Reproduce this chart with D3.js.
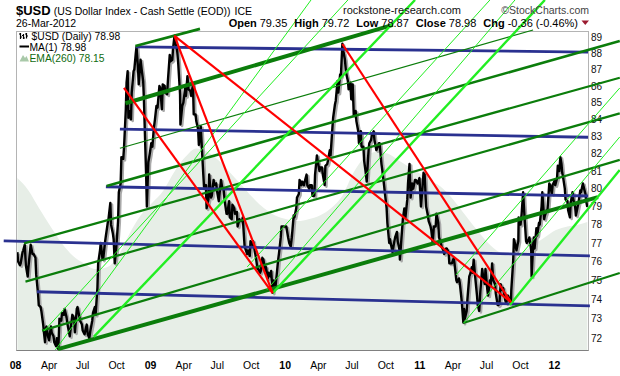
<!DOCTYPE html>
<html>
<head>
<meta charset="utf-8">
<script src="https://cdn.jsdelivr.net/npm/d3@7"></script>
<style>
body { margin: 0; background: #fff; }
svg text { font-family: "Liberation Sans", Arial, sans-serif; }
</style>
</head>
<body>
<svg width="620" height="376"></svg>
<script>
// $USD daily closes (about weekly plus the turning points)
var usd2008 = [
  ["2008-01-02",76.5],["2008-01-04",76.0],["2008-01-09",75.8],["2008-01-11",75.9],["2008-01-16",76.5],
  ["2008-01-18",76.6],["2008-01-22",76.9],["2008-01-25",75.8],["2008-01-30",75.2],["2008-02-01",75.7],
  ["2008-02-07",76.9],["2008-02-12",76.4],["2008-02-15",76.4],["2008-02-20",76.2],["2008-02-22",75.3],
  ["2008-02-27",74.3],["2008-02-29",73.7],["2008-03-05",73.6],["2008-03-07",73.4],["2008-03-12",72.7],
  ["2008-03-14",72.3],["2008-03-17",71.8],["2008-03-19",72.5],["2008-03-21",72.6],["2008-03-25",72.1],
  ["2008-03-28",71.9],["2008-04-02",72.6],["2008-04-04",72.3],["2008-04-09",72.1],["2008-04-11",71.8],
  ["2008-04-16",71.6],["2008-04-18",72.0],["2008-04-22",71.45],["2008-04-25",73.0],["2008-04-30",72.9],
  ["2008-05-02",73.3],["2008-05-07",73.2],["2008-05-09",73.5],["2008-05-14",73.1],["2008-05-16",72.8],
  ["2008-05-21",72.3],["2008-05-23",72.1],["2008-05-28",72.9],["2008-05-30",73.2],["2008-06-04",73.0],
  ["2008-06-06",72.3],["2008-06-11",73.5],["2008-06-13",73.6],["2008-06-18",73.1],["2008-06-20",72.9],
  ["2008-06-25",72.7],["2008-06-27",72.4],["2008-07-02",72.2],["2008-07-08",72.7],["2008-07-11",72.2],
  ["2008-07-15",72.0],["2008-07-18",72.4],["2008-07-23",72.9],["2008-07-25",73.3],["2008-07-30",73.6],
  ["2008-08-01",73.2],["2008-08-06",74.6],["2008-08-08",75.9],["2008-08-13",76.6],["2008-08-15",77.0],
  ["2008-08-20",76.1],["2008-08-22",76.2],["2008-08-27",77.1],["2008-08-29",77.4],["2008-09-03",78.1],
  ["2008-09-05",78.3],["2008-09-10",79.2],["2008-09-12",78.0],["2008-09-17",77.5],["2008-09-19",77.2],
  ["2008-09-22",75.9],["2008-09-26",76.7],["2008-10-01",78.2],["2008-10-03",79.8],["2008-10-08",80.3],
  ["2008-10-10",81.8],["2008-10-15",81.7],["2008-10-17",82.3],["2008-10-22",84.6],["2008-10-24",86.2],
  ["2008-10-27",86.9],["2008-10-29",84.1],["2008-10-31",84.5],["2008-11-05",84.0],["2008-11-07",85.6],
  ["2008-11-12",86.9],["2008-11-14",87.0],["2008-11-18",88.0],["2008-11-20",88.4],["2008-11-24",87.1],
  ["2008-11-26",86.1],["2008-12-01",87.6],["2008-12-04",87.0],["2008-12-08",86.3],["2008-12-10",85.2],
  ["2008-12-12",83.7],["2008-12-16",80.8],["2008-12-18",79.0],["2008-12-22",81.5],["2008-12-26",82.0],
  ["2008-12-30",82.6]
];
var usd2009 = [
  ["2009-01-02",82.4],["2009-01-06",83.5],["2009-01-09",84.0],["2009-01-13",84.8],["2009-01-16",84.7],
  ["2009-01-21",86.0],["2009-01-23",85.9],["2009-01-28",84.6],["2009-01-30",86.1],["2009-02-04",86.0],
  ["2009-02-06",85.6],["2009-02-11",85.5],["2009-02-13",86.3],["2009-02-18",87.9],["2009-02-20",87.5],
  ["2009-02-25",87.6],["2009-02-27",88.3],["2009-03-03",89.1],["2009-03-06",88.6],["2009-03-10",88.2],
  ["2009-03-13",87.4],["2009-03-18",85.5],["2009-03-19",83.7],["2009-03-24",84.8],["2009-03-27",85.0],
  ["2009-04-01",85.9],["2009-04-03",85.4],["2009-04-07",86.6],["2009-04-10",85.8],["2009-04-15",85.7],
  ["2009-04-17",85.4],["2009-04-22",86.1],["2009-04-24",84.3],["2009-04-29",84.3],["2009-05-01",83.9],
  ["2009-05-06",83.4],["2009-05-08",82.5],["2009-05-13",83.6],["2009-05-15",82.8],["2009-05-20",80.8],
  ["2009-05-22",80.1],["2009-05-27",80.2],["2009-05-29",78.9],["2009-06-03",79.4],["2009-06-05",80.8],
  ["2009-06-10",79.5],["2009-06-12",79.6],["2009-06-17",80.5],["2009-06-19",80.2],["2009-06-24",80.3],
  ["2009-06-26",79.9],["2009-07-01",79.3],["2009-07-07",80.5],["2009-07-10",80.1],["2009-07-14",80.0],
  ["2009-07-17",79.3],["2009-07-22",78.6],["2009-07-24",78.6],["2009-07-29",79.3],["2009-07-31",78.4],
  ["2009-08-05",78.3],["2009-08-07",79.1],["2009-08-12",78.9],["2009-08-14",78.6],["2009-08-19",78.7],
  ["2009-08-21",77.9],["2009-08-26",78.3],["2009-08-28",78.2],["2009-09-02",78.2],["2009-09-04",78.4],
  ["2009-09-09",76.8],["2009-09-11",76.7],["2009-09-16",76.4],["2009-09-18",76.6],["2009-09-23",76.3],
  ["2009-09-25",77.1],["2009-09-30",76.9],["2009-10-02",77.1],["2009-10-07",76.5],["2009-10-09",76.3],
  ["2009-10-14",75.6],["2009-10-16",75.6],["2009-10-21",75.4],["2009-10-23",75.5],["2009-10-27",76.2],
  ["2009-10-30",76.1],["2009-11-04",75.5],["2009-11-06",75.7],["2009-11-11",75.1],["2009-11-13",75.4],
  ["2009-11-18",75.2],["2009-11-20",75.5],["2009-11-24",74.35],["2009-11-27",75.0],["2009-12-02",74.7],
  ["2009-12-04",75.1],["2009-12-09",76.1],["2009-12-11",76.4],["2009-12-16",77.3],["2009-12-18",77.9],
  ["2009-12-23",77.9],["2009-12-31",77.9]
];
var usd2010 = [
  ["2010-01-05",77.3],["2010-01-08",77.0],["2010-01-12",76.8],["2010-01-15",77.3],["2010-01-20",78.5],
  ["2010-01-22",78.4],["2010-01-27",78.9],["2010-01-29",79.5],["2010-02-03",79.7],["2010-02-05",80.5],
  ["2010-02-10",80.2],["2010-02-12",80.4],["2010-02-17",80.2],["2010-02-19",80.4],["2010-02-24",80.8],
  ["2010-02-26",80.2],["2010-03-03",80.0],["2010-03-05",80.2],["2010-03-10",80.2],["2010-03-12",79.6],
  ["2010-03-17",79.6],["2010-03-19",80.8],["2010-03-24",81.9],["2010-03-26",81.6],["2010-03-31",81.0],
  ["2010-04-02",81.2],["2010-04-07",81.2],["2010-04-09",80.8],["2010-04-14",80.2],["2010-04-16",81.3],
  ["2010-04-21",81.4],["2010-04-23",81.6],["2010-04-28",82.2],["2010-04-30",81.9],["2010-05-05",83.5],
  ["2010-05-07",84.1],["2010-05-12",84.9],["2010-05-14",85.1],["2010-05-19",86.3],["2010-05-21",85.6],
  ["2010-05-26",86.7],["2010-05-28",86.6],["2010-06-01",88.6],["2010-06-04",88.1],["2010-06-08",87.6],
  ["2010-06-11",86.8],["2010-06-16",86.3],["2010-06-18",85.8],["2010-06-23",86.2],["2010-06-25",85.2],
  ["2010-06-29",86.1],["2010-07-02",84.2],["2010-07-07",84.5],["2010-07-09",83.9],["2010-07-14",83.3],
  ["2010-07-16",82.6],["2010-07-21",83.3],["2010-07-23",82.4],["2010-07-28",82.4],["2010-07-30",81.6],
  ["2010-08-04",80.8],["2010-08-06",80.4],["2010-08-11",82.2],["2010-08-13",82.6],["2010-08-18",82.8],
  ["2010-08-20",83.1],["2010-08-25",83.3],["2010-08-27",82.8],["2010-09-01",82.2],["2010-09-03",82.3],
  ["2010-09-08",82.6],["2010-09-10",82.6],["2010-09-15",81.4],["2010-09-17",81.1],["2010-09-22",80.2],
  ["2010-09-24",79.8],["2010-09-29",78.9],["2010-10-01",78.1],["2010-10-06",77.0],["2010-10-08",77.2],
  ["2010-10-13",76.7],["2010-10-15",76.5],["2010-10-20",77.1],["2010-10-22",77.3],["2010-10-27",77.6],
  ["2010-10-29",77.1],["2010-11-03",76.6],["2010-11-04",76.1],["2010-11-08",77.2],["2010-11-12",78.3],
  ["2010-11-16",78.9],["2010-11-19",78.4],["2010-11-24",79.4],["2010-11-26",80.3],["2010-11-30",81.4],
  ["2010-12-03",79.5],["2010-12-07",80.3],["2010-12-10",80.0],["2010-12-15",80.5],["2010-12-17",80.5],
  ["2010-12-22",80.3],["2010-12-27",80.6],["2010-12-31",79.0]
];
var usd2011 = [
  ["2011-01-04",80.0],["2011-01-07",80.9],["2011-01-10",80.8],["2011-01-14",79.0],["2011-01-18",78.6],
  ["2011-01-21",78.2],["2011-01-26",77.9],["2011-01-28",77.7],["2011-02-01",77.0],["2011-02-04",77.9],
  ["2011-02-09",77.9],["2011-02-11",78.6],["2011-02-16",78.1],["2011-02-18",77.3],["2011-02-23",77.0],
  ["2011-02-25",76.8],["2011-03-02",76.6],["2011-03-04",76.4],["2011-03-09",76.7],["2011-03-11",76.7],
  ["2011-03-16",76.5],["2011-03-18",75.9],["2011-03-23",75.9],["2011-03-25",75.9],["2011-03-30",76.2],
  ["2011-04-01",75.9],["2011-04-06",75.0],["2011-04-08",74.9],["2011-04-13",75.1],["2011-04-15",74.9],
  ["2011-04-19",74.2],["2011-04-21",73.8],["2011-04-25",72.8],["2011-04-27",73.5],["2011-04-29",73.0],
  ["2011-05-04",73.4],["2011-05-06",74.0],["2011-05-11",75.2],["2011-05-13",75.3],["2011-05-18",75.7],
  ["2011-05-20",75.4],["2011-05-23",76.1],["2011-05-27",75.2],["2011-06-01",74.2],["2011-06-03",73.7],
  ["2011-06-07",73.4],["2011-06-10",74.4],["2011-06-15",75.6],["2011-06-17",75.3],["2011-06-22",74.8],
  ["2011-06-24",75.6],["2011-06-29",74.5],["2011-07-01",74.2],["2011-07-06",75.0],["2011-07-08",74.7],
  ["2011-07-12",75.9],["2011-07-15",75.0],["2011-07-20",74.8],["2011-07-22",74.3],["2011-07-27",73.7],
  ["2011-07-29",73.7],["2011-08-01",73.8],["2011-08-04",74.8],["2011-08-08",74.5],["2011-08-11",74.6],
  ["2011-08-16",74.0],["2011-08-19",73.8],["2011-08-24",74.2],["2011-08-29",73.9],["2011-09-01",73.8],
  ["2011-09-02",74.5],["2011-09-07",76.0],["2011-09-09",77.2],["2011-09-14",76.8],["2011-09-16",76.6],
  ["2011-09-21",77.1],["2011-09-22",78.4],["2011-09-27",78.0],["2011-09-30",78.6],["2011-10-04",79.8],
  ["2011-10-07",78.7],["2011-10-12",77.1],["2011-10-14",77.0],["2011-10-19",77.2],["2011-10-21",77.3],
  ["2011-10-26",76.6],["2011-10-27",75.2],["2011-10-31",76.8],["2011-11-02",77.3],["2011-11-04",76.7],
  ["2011-11-09",77.8],["2011-11-11",77.4],["2011-11-16",78.1],["2011-11-18",78.0],["2011-11-23",79.0],
  ["2011-11-25",79.8],["2011-11-30",78.3],["2011-12-02",78.5],["2011-12-07",78.8],["2011-12-09",78.8],
  ["2011-12-14",80.3],["2011-12-16",80.2],["2011-12-21",79.7],["2011-12-23",80.2],["2011-12-29",80.5],
  ["2011-12-30",80.2]
];
var usd2012 = [
  ["2012-01-04",80.6],["2012-01-06",81.3],["2012-01-10",81.0],["2012-01-13",81.8],["2012-01-16",81.4],
  ["2012-01-18",80.9],["2012-01-20",80.7],["2012-01-25",80.0],["2012-01-27",79.4],["2012-02-01",79.3],
  ["2012-02-03",78.8],["2012-02-08",78.4],["2012-02-10",79.2],["2012-02-15",79.8],["2012-02-17",79.4],
  ["2012-02-22",79.0],["2012-02-24",78.5],["2012-02-29",79.0],["2012-03-02",79.2],["2012-03-07",79.9],
  ["2012-03-09",79.8],["2012-03-14",80.3],["2012-03-16",80.1],["2012-03-21",79.7],["2012-03-23",79.3],
  ["2012-03-26",78.98]
];

// EMA(260)
var ema260 = [
  ["2008-01-02",80.6],["2008-02-01",79.9],["2008-03-01",78.9],["2008-04-01",77.9],["2008-05-01",77.0],
  ["2008-06-01",76.3],["2008-07-01",75.9],["2008-08-01",75.6],["2008-09-01",75.7],["2008-10-01",76.3],
  ["2008-11-01",77.5],["2008-12-01",78.5],["2009-01-01",79.2],["2009-02-01",79.9],["2009-03-01",80.9],
  ["2009-04-01",81.8],["2009-05-01",82.3],["2009-06-01",82.1],["2009-07-01",81.6],["2009-08-01",80.9],
  ["2009-09-01",80.2],["2009-10-01",79.5],["2009-11-01",78.9],["2009-12-01",78.5],["2010-01-01",78.3],
  ["2010-02-01",78.2],["2010-03-01",78.3],["2010-04-01",78.5],["2010-05-01",78.9],["2010-06-01",79.6],
  ["2010-07-01",80.9],["2010-08-01",81.8],["2010-09-01",82.1],["2010-10-01",82.0],["2010-11-01",81.6],
  ["2010-12-01",81.2],["2011-01-01",80.8],["2011-02-01",80.4],["2011-03-01",80.0],["2011-04-01",79.3],
  ["2011-05-01",78.5],["2011-06-01",77.7],["2011-07-01",77.0],["2011-08-01",76.5],["2011-09-01",76.3],
  ["2011-10-01",76.5],["2011-11-01",76.9],["2011-12-01",77.3],["2012-01-01",77.7],["2012-02-01",77.9],
  ["2012-03-01",78.0],["2012-03-26",78.15]
];

// hand drawn trend lines: [start date, start value, end date, end value]
var blueLines = [
  ["2008-11-18",88.40,"2012-03-28",88.08],
  ["2008-10-06",83.43,"2012-03-28",82.95],
  ["2008-08-29",80.11,"2012-03-28",79.59],
  ["2007-11-26",77.11,"2012-04-02",76.30],
  ["2008-02-24",74.40,"2012-04-02",73.66]
];
var redLines = [
  ["2009-03-02",89.10,"2011-09-01",73.86],
  ["2009-03-04",89.02,"2009-11-24",74.33],
  ["2008-10-17",85.88,"2009-11-24",74.33],
  ["2010-06-01",88.58,"2011-09-01",73.86]
];
var greenHeavy = [
  ["2008-04-21",71.45,"2012-04-24",79.53],
  ["2008-10-21",84.96,"2010-10-16",89.78]
];
var greenMedium = [
  ["2008-11-17",88.46,"2009-05-11",89.53],
  ["2008-08-31",80.15,"2012-06-22",88.77]
];
var greenLight = [
  ["2008-01-20",76.98,"2012-06-22",86.50],
  ["2008-01-24",74.93,"2012-06-22",84.36],
  ["2008-03-09",72.39,"2012-06-22",81.64],
  ["2011-04-25",72.78,"2012-06-22",75.39]
];
var greenThin = [
  ["2008-10-06",82.31,"2011-10-31",89.46]
];
var limeHeavy = [
  ["2008-07-27",72.07,"2010-12-15",91.37],
  ["2009-11-24",74.33,"2011-12-02",91.37],
  ["2011-08-29",73.71,"2012-06-22",81.06]
];
var limeThin = [
  ["2008-03-14",72.37,"2010-06-16",91.37],
  ["2008-04-14",71.41,"2010-03-08",91.37],
  ["2009-09-16",75.71,"2011-07-06",91.37],
  ["2009-11-08",74.49,"2011-09-12",91.37],
  ["2011-04-26",72.78,"2012-06-22",82.97],
  ["2011-04-05",75.28,"2012-06-22",85.88]
];

var yTicks = d3.range(72, 90);
var quoteLabels = [["Open","79.35"],["High","79.72"],["Low","78.87"],["Close","78.98"],["Chg","-0.36 (-0.46%)"]];

var parse = d3.timeParse("%Y-%m-%d");
var svg = d3.select("svg");

var x = d3.scaleTime()
    .domain([parse("2008-01-01"), parse("2012-03-26")])
    .range([17, 587.3]);
var y = d3.scaleLog()
    .domain([72, 89])
    .range([338.3, 37.3]);

var usd = [].concat(usd2008, usd2009, usd2010, usd2011, usd2012)
    .map(function(d) { return {date: parse(d[0]), v: d[1]}; });
var ema = ema260.map(function(d) { return {date: parse(d[0]), v: d[1]}; });

svg.append("rect").attr("width", 620).attr("height", 376).attr("fill", "#fff");

// plot clip
svg.append("clipPath").attr("id", "plotclip")
  .append("rect").attr("x", 17).attr("y", 31.5).attr("width", 571).attr("height", 319);

var plot = svg.append("g").attr("clip-path", "url(#plotclip)");

// EMA(260) shaded area
var area = d3.area()
    .x(function(d) { return x(d.date); })
    .y0(351)
    .y1(function(d) { return y(d.v); })
    .curve(d3.curveMonotoneX);
plot.append("path").datum(ema).attr("d", area).attr("fill", "#e7eee7");

// price line with grey shadow
var line = d3.line()
    .x(function(d) { return x(d.date); })
    .y(function(d) { return y(d.v); });
plot.append("path").datum(usd).attr("d", line)
    .attr("fill", "none").attr("stroke", "#a9a9a9").attr("stroke-width", 2.6)
    .attr("stroke-linejoin", "round")
    .attr("transform", "translate(1.7,1.5)");
plot.append("path").datum(usd).attr("d", line)
    .attr("fill", "none").attr("stroke", "#000").attr("stroke-width", 2.4)
    .attr("stroke-linejoin", "round");

// frame
svg.append("rect").attr("x", 16.5).attr("y", 31.5).attr("width", 572).attr("height", 319)
    .attr("fill", "none").attr("stroke", "#b4b4b4");
svg.append("line").attr("x1", 16.5).attr("x2", 588.5).attr("y1", 350.5).attr("y2", 350.5)
    .attr("stroke", "#808080");

// axes
var yAxis = d3.axisRight(y).tickValues(yTicks).tickFormat(d3.format("d")).tickSize(0).tickPadding(3);
var gy = svg.append("g").attr("transform", "translate(588,0)").call(yAxis);
gy.select(".domain").remove();
gy.selectAll("text").attr("font-size", 10).attr("fill", "#111")
    .attr("font-family", "'Liberation Sans', Arial, sans-serif");

var xTicks = d3.timeMonth.every(3).range(parse("2008-01-01"), parse("2012-02-01"));
var xAxis = d3.axisBottom(x).tickValues(xTicks).tickSize(0).tickPadding(12)
    .tickFormat(function(d) { return d.getMonth() === 0 ? d3.timeFormat("%y")(d) : d3.timeFormat("%b")(d); });
var gx = svg.append("g").attr("transform", "translate(-2,350)").call(xAxis);
gx.select(".domain").remove();
gx.selectAll("text").attr("font-size", 10.5).attr("fill", "#000")
    .attr("font-family", "'Liberation Sans', Arial, sans-serif")
    .attr("font-weight", function(d) { return d.getMonth() === 0 ? "bold" : "normal"; });

// trend lines (not clipped, they run over the header and axis)
function drawLines(rows, color, width) {
  svg.append("g").selectAll("line").data(rows).enter().append("line")
      .attr("x1", function(d) { return x(parse(d[0])); })
      .attr("y1", function(d) { return y(d[1]); })
      .attr("x2", function(d) { return x(parse(d[2])); })
      .attr("y2", function(d) { return y(d[3]); })
      .attr("stroke", color).attr("stroke-width", width);
}
drawLines(blueLines, "#2a3190", 2.8);
drawLines(greenThin, "#0b7d0b", 1.1);
drawLines(greenLight, "#0b7d0b", 2.2);
drawLines(greenMedium, "#0b7d0b", 2.6);
drawLines(greenHeavy, "#0b7d0b", 4);
drawLines(limeThin, "#22ee22", 1);
drawLines(limeHeavy, "#22ee22", 2.4);
drawLines(redLines, "#ff0000", 2.2);

// legend
var lg = svg.append("g").attr("font-family", "'DejaVu Sans', Verdana, sans-serif").attr("font-size", 10.3);
lg.append("path").attr("d", "M20.5,33V39M19,34H20.5M20.5,37H22M23.5,34V39M22,35.5H23.5M23.5,38H25M26.5,33V38.5M25,34H26.5M26.5,36H28")
    .attr("stroke", "#000").attr("stroke-width", 1.2).attr("fill", "none");
lg.append("text").attr("x", 31.5).attr("y", 39.5).text("$USD (Daily) 78.98");
lg.append("line").attr("x1", 19.5).attr("x2", 29).attr("y1", 46.5).attr("y2", 46.5)
    .attr("stroke", "#000").attr("stroke-width", 2);
lg.append("text").attr("x", 29.5).attr("y", 50.5).text("MA(1) 78.98");
lg.append("path").attr("d", "M19.5,61.5L23,55L25,58L26.5,56L29,61.5Z").attr("fill", "#a9c9a9");
lg.append("text").attr("x", 29.5).attr("y", 62).attr("fill", "#106b10").text("EMA(260) 78.15");

// header
var t1 = svg.append("text").attr("x", 16).attr("y", 14.5).attr("fill", "#000");
t1.append("tspan").attr("font-weight", "bold").attr("font-size", 13).text("$USD");
t1.append("tspan").attr("font-size", 10.5).attr("dx", 3).text("(US Dollar Index - Cash Settle (EOD))");
t1.append("tspan").attr("font-size", 10.5).attr("dx", 4).text("ICE");

svg.append("text").attr("x", 343).attr("y", 14).attr("font-size", 11).attr("fill", "#111")
    .text("rockstone-research.com");
svg.append("text").attr("x", 589).attr("y", 14).attr("font-size", 10.5).attr("fill", "#444")
    .attr("text-anchor", "end").text("\u00a9StockCharts.com");

svg.append("text").attr("x", 16).attr("y", 26.5).attr("font-size", 10.5).text("26-Mar-2012");

var t2 = svg.append("text").attr("x", 578).attr("y", 26.5).attr("font-size", 11).attr("text-anchor", "end");
quoteLabels.forEach(function(q, i) {
  t2.append("tspan").attr("font-weight", "bold").attr("dx", i ? 7 : 0).text(q[0]);
  t2.append("tspan").attr("dx", 3).text(q[1]);
});
svg.append("path").attr("d", "M581.5,20.5L589,20.5L585.25,25Z").attr("fill", "#9b1b30");
</script>
</body>
</html>
